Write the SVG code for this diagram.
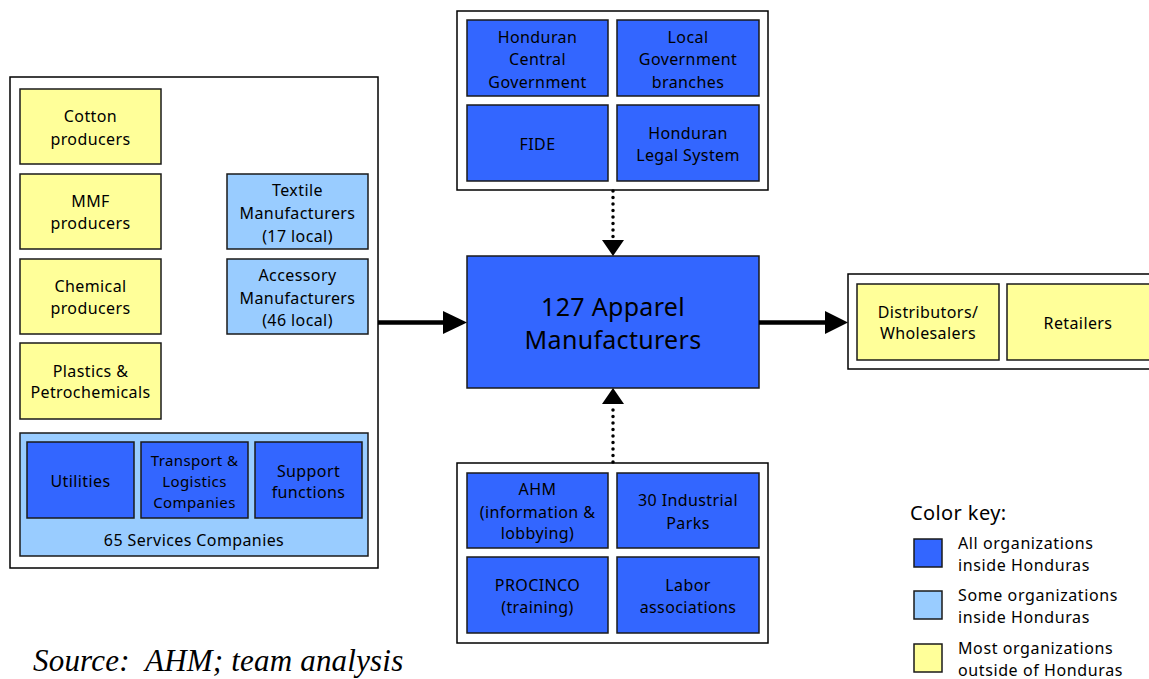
<svg xmlns="http://www.w3.org/2000/svg" width="1149" height="679" viewBox="0 0 1149 679">
<defs>
<style>
.cont{fill:#ffffff;stroke:#000;stroke-width:1.5}
.db{fill:#3366ff;stroke:#1a1a1a;stroke-width:1.5}
.lb{fill:#99ccff;stroke:#1a1a1a;stroke-width:1.5}
.ye{fill:#ffff99;stroke:#1a1a1a;stroke-width:1.5}
text{font-family:"Noto Sans","DejaVu Sans",sans-serif;font-size:16px;fill:#000;text-anchor:middle;letter-spacing:0.4px}
.big{font-size:25px;letter-spacing:0.3px}
.sm{font-size:15px}
.key{font-size:20px;text-anchor:start}
.lt{text-anchor:start;letter-spacing:0.6px}
.src{font-family:"Liberation Serif","Times New Roman",serif;font-style:italic;font-size:31px;text-anchor:start;white-space:pre;letter-spacing:0.2px}
.solid{stroke:#000;stroke-width:4.5;fill:none}
.dot{stroke:#000;stroke-width:3.5;fill:none;stroke-linecap:round;stroke-dasharray:0 6.5}
</style>
</defs>
<g id="left-container">
<rect class="cont" x="10" y="77" width="368" height="491"/>
</g>
<g id="cotton"><rect class="ye" x="20" y="89" width="141" height="75"/><text x="90.5" y="122">Cotton</text><text x="90.5" y="145">producers</text></g>
<g id="mmf"><rect class="ye" x="20" y="174" width="141" height="75"/><text x="90.5" y="207">MMF</text><text x="90.5" y="229">producers</text></g>
<g id="chemical"><rect class="ye" x="20" y="259" width="141" height="75"/><text x="90.5" y="292">Chemical</text><text x="90.5" y="314">producers</text></g>
<g id="plastics"><rect class="ye" x="20" y="343" width="141" height="76"/><text x="90.5" y="377">Plastics &amp;</text><text x="90.5" y="398">Petrochemicals</text></g>
<g id="textile"><rect class="lb" x="227" y="174" width="141" height="75"/><text x="297.5" y="196">Textile</text><text x="297.5" y="219">Manufacturers</text><text x="297.5" y="242">(17 local)</text></g>
<g id="accessory"><rect class="lb" x="227" y="259" width="141" height="75"/><text x="297.5" y="281">Accessory</text><text x="297.5" y="304">Manufacturers</text><text x="297.5" y="326">(46 local)</text></g>
<g id="services">
<rect class="lb" x="20" y="433" width="348" height="123"/>
<text x="194" y="546">65 Services Companies</text>
</g>
<g id="utilities"><rect class="db" x="27" y="442" width="107" height="76"/><text x="80.5" y="487">Utilities</text></g>
<g id="transport"><rect class="db" x="141" y="442" width="107" height="76"/><text class="sm" x="194.5" y="466">Transport &amp;</text><text class="sm" x="194.5" y="487">Logistics</text><text class="sm" x="194.5" y="508">Companies</text></g>
<g id="support"><rect class="db" x="255" y="442" width="107" height="76"/><text x="308.5" y="477">Support</text><text x="308.5" y="498">functions</text></g>

<g id="top-container"><rect class="cont" x="457" y="11" width="311" height="179"/></g>
<g id="central-gov"><rect class="db" x="467" y="20" width="141" height="76"/><text x="537.5" y="43">Honduran</text><text x="537.5" y="65">Central</text><text x="537.5" y="88">Government</text></g>
<g id="local-gov"><rect class="db" x="617" y="20" width="142" height="76"/><text x="688" y="43">Local</text><text x="688" y="65">Government</text><text x="688" y="88">branches</text></g>
<g id="fide"><rect class="db" x="467" y="105" width="141" height="76"/><text x="537.5" y="150">FIDE</text></g>
<g id="legal"><rect class="db" x="617" y="105" width="142" height="76"/><text x="688" y="139">Honduran</text><text x="688" y="161">Legal System</text></g>

<g id="apparel"><rect class="db" x="467" y="256" width="292" height="132"/><text class="big" x="613" y="316">127 Apparel</text><text class="big" x="613" y="349">Manufacturers</text></g>

<g id="right-container"><rect class="cont" x="848" y="274" width="310" height="95"/></g>
<g id="distributors"><rect class="ye" x="857" y="284" width="142" height="76"/><text x="928" y="318">Distributors/</text><text x="928" y="339">Wholesalers</text></g>
<g id="retailers"><rect class="ye" x="1007" y="284" width="150" height="76"/><text x="1078" y="329">Retailers</text></g>

<g id="bottom-container"><rect class="cont" x="457" y="463" width="311" height="180"/></g>
<g id="ahm"><rect class="db" x="467" y="473" width="141" height="75"/><text x="537.5" y="495">AHM</text><text x="537.5" y="518">(information &amp;</text><text x="537.5" y="539">lobbying)</text></g>
<g id="parks"><rect class="db" x="617" y="473" width="142" height="75"/><text x="688" y="506">30 Industrial</text><text x="688" y="529">Parks</text></g>
<g id="procinco"><rect class="db" x="467" y="557" width="141" height="76"/><text x="537.5" y="591">PROCINCO</text><text x="537.5" y="613">(training)</text></g>
<g id="labor"><rect class="db" x="617" y="557" width="142" height="76"/><text x="688" y="591">Labor</text><text x="688" y="613">associations</text></g>

<g id="connectors">
<line class="solid" x1="378" y1="322.5" x2="446" y2="322.5"/>
<polygon points="443,311 467,322.5 443,334" fill="#000"/>
<line class="solid" x1="759" y1="322.5" x2="828" y2="322.5"/>
<polygon points="825,311 848,322.5 825,334" fill="#000"/>
<line class="dot" x1="613" y1="191" x2="613" y2="238"/>
<polygon points="602,240 624,240 613,256" fill="#000"/>
<line class="dot" x1="613" y1="462" x2="613" y2="408"/>
<polygon points="602,404 624,404 613,388" fill="#000"/>
</g>

<g id="legend">
<text class="key" x="910" y="520">Color key:</text>
<rect class="db" x="914" y="539" width="28" height="28"/>
<text class="lt" x="958" y="549">All organizations</text><text class="lt" x="958" y="571">inside Honduras</text>
<rect class="lb" x="914" y="591" width="28" height="28"/>
<text class="lt" x="958" y="601">Some organizations</text><text class="lt" x="958" y="623">inside Honduras</text>
<rect class="ye" x="914" y="644" width="28" height="28"/>
<text class="lt" x="958" y="654">Most organizations</text><text class="lt" x="958" y="676">outside of Honduras</text>
</g>

<text class="src" x="33" y="671" xml:space="preserve">Source:  AHM; team analysis</text>
</svg>
